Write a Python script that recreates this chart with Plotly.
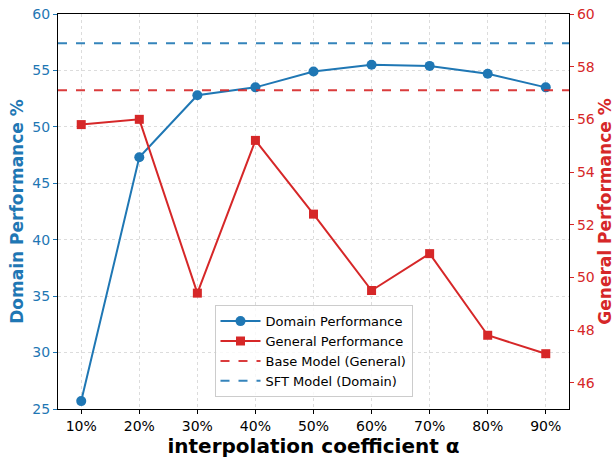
import plotly.graph_objects as go

categories = ["10%", "20%", "30%", "40%", "50%", "60%", "70%", "80%", "90%"]
domain_perf = [25.7, 47.3, 52.8, 53.5, 54.9, 55.5, 55.4, 54.7, 53.5]
general_perf = [55.8, 56.0, 49.4, 55.2, 52.4, 49.5, 50.9, 47.8, 47.1]
sft_domain = 57.4
base_general = 57.1

BLUE = "#1f77b4"
RED = "#d62728"
FONT = "DejaVu Sans"

xs = list(range(len(categories)))
xlo, xhi = -0.4, len(categories) - 1 + 0.4

fig = go.Figure()
fig.add_trace(go.Scatter(x=xs, y=domain_perf, mode="lines+markers", name="Domain Performance",
                         line=dict(color=BLUE, width=2), marker=dict(symbol="circle", size=10, color=BLUE),
                         yaxis="y"))
fig.add_trace(go.Scatter(x=xs, y=general_perf, mode="lines+markers", name="General Performance",
                         line=dict(color=RED, width=2), marker=dict(symbol="square", size=9, color=RED),
                         yaxis="y2"))
fig.add_trace(go.Scatter(x=[xlo, xhi], y=[base_general, base_general], mode="lines", name="Base Model (General)",
                         line=dict(color=RED, width=2, dash="dash"), opacity=0.9, yaxis="y2"))
fig.add_trace(go.Scatter(x=[xlo, xhi], y=[sft_domain, sft_domain], mode="lines", name="SFT Model (Domain)",
                         line=dict(color=BLUE, width=2, dash="dash"), opacity=0.9, yaxis="y"))

fig.update_layout(
    width=616, height=459,
    margin=dict(l=58, r=47, t=14, b=50, autoexpand=False),
    plot_bgcolor="white", paper_bgcolor="white",
    font=dict(family=FONT, size=14, color="black"),
    showlegend=True,
    legend=dict(x=0.5, y=0.03, xanchor="center", yanchor="bottom",
                bgcolor="rgba(255,255,255,0.8)", bordercolor="#cccccc", borderwidth=1,
                font=dict(family=FONT, size=13, color="black"), tracegroupgap=0,
                itemwidth=40),
    xaxis=dict(range=[xlo, xhi], tickmode="array", tickvals=xs, ticktext=categories,
               showgrid=True, gridcolor="#dcdcdc", griddash="dot", gridwidth=0.8,
               showline=True, linecolor="black", linewidth=1.2, mirror=True,
               ticks="outside", ticklen=4, tickcolor="black", zeroline=False, automargin=False,
               tickfont=dict(size=14, color="black"),
               title=dict(text="<b>interpolation coefficient α</b>", font=dict(size=20, color="black"), standoff=3)),
    yaxis=dict(range=[25, 60], tickmode="array", tickvals=[25, 30, 35, 40, 45, 50, 55, 60],
               showgrid=True, gridcolor="#dcdcdc", griddash="dot", gridwidth=0.8,
               showline=True, linecolor="black", linewidth=1.2, zeroline=False, automargin=False,
               ticks="outside", ticklen=4, tickcolor=BLUE,
               tickfont=dict(size=14, color=BLUE),
               title=dict(text="<b>Domain Performance %</b>", font=dict(size=17, color=BLUE), standoff=4)),
    yaxis2=dict(range=[45, 60], overlaying="y", side="right", tickmode="array",
                tickvals=[46, 48, 50, 52, 54, 56, 58, 60],
                showgrid=False, showline=True, linecolor="black", linewidth=1.2, zeroline=False, automargin=False,
                ticks="outside", ticklen=4, tickcolor=RED,
                tickfont=dict(size=14, color=RED),
                title=dict(text="<b>General Performance %</b>", font=dict(size=17, color=RED), standoff=4)),
)

fig.write_html("out.html", config={"displayModeBar": False},
               post_script="document.body.style.margin='0';document.body.style.overflow='hidden';")
